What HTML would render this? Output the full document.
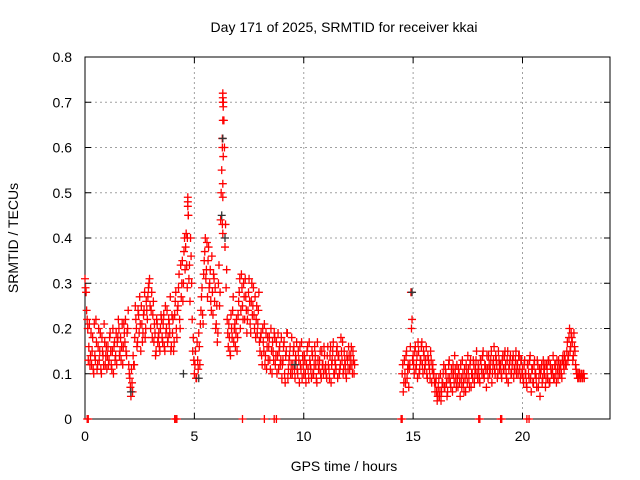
<!DOCTYPE html>
<html><head><meta charset="utf-8"><style>
body{margin:0;background:#fff}
svg{display:block;font-family:"Liberation Sans",sans-serif}
</style></head><body>
<svg id="chart" width="640" height="480">
<text x="344" y="32" font-size="14" text-anchor="middle">Day 171 of 2025, SRMTID for receiver kkai</text>
<text x="344" y="471" font-size="14" text-anchor="middle">GPS time / hours</text>
<text x="18" y="238" font-size="14" text-anchor="middle" transform="rotate(-90 18 238)">SRMTID / TECUs</text>
<g id="grid"></g>
<g id="axes"></g>
<g id="marks"></g>
</svg>
<script>
const xTicks=[0,5,10,15,20];
const yTicks=[0,0.1,0.2,0.3,0.4,0.5,0.6,0.7,0.8];
const yTickLabels=["0","0.1","0.2","0.3","0.4","0.5","0.6","0.7","0.8"];
const segAStart=0, segA2Start=0.025, segBStart=14.5, segB2Start=14.525, step=0.05;
const segA=[.31,.28,.22,.13,.21,.14,.12,.18,.10,.14,.22,.11,.16,.13,.19,.10,.15,.12,.17,.14,
.11,.16,.13,.19,.12,.15,.10,.17,.14,.12,.18,.20,.15,.13,.21,.16,.19,.22,.14,.20,
.12,.09,.05,.08,.14,.12,.25,.20,.17,.23,.27,.15,.21,.19,.24,.18,.26,.22,.29,.31,
.20,.28,.23,.17,.19,.15,.21,.18,.16,.20,.22,.17,.23,.15,.19,.24,.18,.21,.27,.16,
.19,.15,.23,.28,.18,.25,.32,.20,.27,.35,.30,.40,.38,.34,.48,.31,.26,.36,.22,.18,
.10,.15,.09,.13,.19,.12,.24,.29,.21,.35,.40,.33,.27,.38,.30,.26,.36,.23,.31,.29,
.21,.17,.30,.25,.44,.55,.72,.66,.38,.29,.22,.16,.18,.14,.20,.24,.17,.21,.19,.15,
.23,.28,.20,.32,.25,.30,.22,.27,.19,.24,.31,.21,.26,.23,.29,.20,.18,.25,.21,.28,
.15,.19,.12,.17,.21,.14,.11,.18,.16,.13,.20,.10,.15,.19,.12,.17,.14,.11,.16,.13,
.09,.13,.17,.08,.15,.19,.11,.14,.10,.18,.12,.16,.09,.13,.11,.15,.08,.12,.17,.14,
.10,.13,.08,.15,.11,.17,.12,.09,.14,.10,.16,.12,.08,.13,.11,.15,.09,.12,.10,.14,
.12,.09,.16,.11,.14,.08,.13,.17,.10,.12,.15,.09,.14,.11,.18,.13,.10,.15,.12,.09,
.13,.16,.11,.14,.12,.15,.10];
const segA2=[.29,.24,.20,.16,.12,.19,.15,.11,.21,.13,.17,.12,.20,.15,.11,.18,.14,.21,.12,.16,
.14,.12,.18,.15,.11,.20,.16,.13,.19,.17,.22,.14,.18,.16,.12,.21,.17,.15,.19,.24,
.10,.07,.11,.06,.12,.18,.22,.16,.24,.19,.21,.25,.17,.23,.28,.20,.24,.27,.30,.25,
.24,.18,.26,.21,.14,.22,.17,.19,.15,.23,.18,.21,.16,.25,.20,.17,.22,.19,.15,.23,
.22,.17,.26,.20,.24,.29,.22,.34,.30,.26,.37,.33,.41,.29,.45,.34,.40,.30,.15,.13,
.12,.09,.17,.11,.16,.21,.27,.23,.32,.37,.31,.39,.35,.29,.33,.24,.28,.32,.26,.20,
.25,.19,.34,.28,.50,.62,.70,.60,.43,.33,.19,.21,.15,.23,.18,.27,.20,.16,.22,.18,
.26,.31,.24,.29,.22,.27,.31,.24,.22,.28,.26,.19,.30,.25,.23,.27,.22,.19,.24,.17,
.18,.14,.20,.15,.12,.19,.16,.13,.18,.11,.15,.17,.13,.18,.14,.10,.19,.15,.12,.18,
.12,.16,.10,.14,.19,.09,.13,.16,.12,.10,.15,.11,.14,.17,.10,.13,.16,.11,.09,.12,
.14,.10,.12,.16,.09,.13,.11,.15,.10,.12,.14,.09,.17,.11,.13,.10,.15,.12,.16,.11,
.10,.14,.12,.09,.16,.12,.15,.10,.13,.11,.16,.14,.10,.12,.15,.17,.11,.13,.10,.14,
.11,.14,.12,.16,.10,.13,.12];
const segB=[.10,.06,.13,.08,.15,.11,.07,.12,.28,.22,
.14,.10,.16,.12,.09,.15,.11,.13,.17,.10,.14,.12,.16,.09,.13,.11,.15,.08,.12,.10,
.06,.09,.04,.07,.05,.10,.06,.08,.12,.07,.10,.05,.09,.13,.08,.11,.06,.10,.14,.09,
.12,.07,.10,.05,.09,.13,.08,.11,.06,.10,.14,.09,.12,.07,.10,.13,.08,.11,.15,.09,
.11,.08,.13,.10,.15,.09,.12,.07,.11,.14,.10,.13,.08,.12,.16,.10,.13,.09,.15,.11,
.12,.09,.14,.11,.15,.10,.13,.08,.12,.14,.10,.13,.09,.11,.15,.12,.10,.14,.09,.13,
.11,.08,.13,.10,.07,.12,.09,.14,.06,.11,.08,.13,.10,.07,.12,.09,.05,.11,.08,.13,
.10,.07,.12,.09,.13,.08,.11,.10,.14,.09,.12,.08,.11,.13,.10,.12,.09,.14,.11,.13,
.12,.17,.14,.20,.16,.18,.13,.19,.15,.11,.10,.09,.10,.09,.10,.09,.10];
const segB2=[.12,.08,.10,.14,.09,.12,.11,.16,.20,.13,
.12,.15,.11,.14,.17,.10,.13,.16,.12,.15,.11,.13,.10,.14,.12,.09,.13,.11,.10,.08,
.08,.06,.05,.09,.06,.04,.08,.10,.07,.11,.08,.06,.12,.09,.07,.10,.12,.08,.11,.07,
.09,.11,.08,.12,.07,.10,.06,.09,.12,.08,.11,.07,.13,.10,.09,.12,.10,.13,.10,.12,
.09,.13,.11,.14,.10,.12,.11,.14,.09,.12,.11,.15,.10,.13,.11,.14,.12,.10,.13,.12,
.10,.13,.11,.14,.12,.09,.15,.11,.13,.10,.12,.14,.11,.13,.10,.12,.14,.11,.13,.10,
.09,.12,.10,.08,.12,.10,.13,.09,.11,.08,.12,.10,.09,.13,.07,.11,.10,.12,.09,.11,
.12,.09,.11,.13,.08,.12,.10,.11,.09,.12,.10,.13,.09,.11,.12,.10,.13,.12,.14,.12,
.15,.13,.18,.15,.19,.17,.14,.16,.12,.10,.09,.10,.09,.10,.09,.10,.09];
const spikeTimes=[6.3,6.3,6.32,6.3,6.28,6.32,6.3,6.3,6.28,6.3,4.7,4.7,4.72,4.68];
const spikeVals=[0.71,0.70,0.69,0.66,0.60,0.58,0.52,0.49,0.43,0.41,0.49,0.47,0.45,0.40];
const zeroTimes=[0.1,0.15,4.1,4.15,4.2,7.2,8.2,8.65,8.75,14.45,14.5,18.0,18.05,19.0,19.05,20.2,20.3];
const darkTimes=[4.5,5.2,6.25,6.3,6.4,14.95,2.1,9.6];
const darkVals=[0.10,0.09,0.45,0.62,0.40,0.28,0.06,0.12];
const X0=85,X1=610,Y0=419,Y1=57;
const xs=t=>X0+(t/24)*(X1-X0);
const ys=v=>Y0-(v/0.8)*(Y0-Y1);
const NS="http://www.w3.org/2000/svg";
function mk(tag,attrs,parent){const e=document.createElementNS(NS,tag);for(const k in attrs)e.setAttribute(k,attrs[k]);parent.appendChild(e);return e;}
const grid=document.getElementById('grid'),axes=document.getElementById('axes'),marks=document.getElementById('marks');
xTicks.forEach(t=>{
 if(t>0){const g=mk('line',{x1:xs(t),x2:xs(t),y1:Y0,y2:Y1,stroke:'#a0a0a0','stroke-dasharray':'2,3'},grid);
 
 }
 mk('line',{x1:xs(t),x2:xs(t),y1:Y0,y2:Y0-6,stroke:'#000'},axes);
 mk('line',{x1:xs(t),x2:xs(t),y1:Y1,y2:Y1+6,stroke:'#000'},axes);
 const l=mk('text',{x:xs(t),y:Y0+22,'font-size':14,'text-anchor':'middle'},axes);l.textContent=t;
 
 
});
yTicks.forEach((v,i)=>{
 if(v>0&&v<0.8){const g=mk('line',{x1:X0,x2:X1,y1:ys(v),y2:ys(v),stroke:'#a0a0a0','stroke-dasharray':'2,3'},grid);
 
 }
 mk('line',{x1:X0,x2:X0+6,y1:ys(v),y2:ys(v),stroke:'#000'},axes);
 mk('line',{x1:X1,x2:X1-6,y1:ys(v),y2:ys(v),stroke:'#000'},axes);
 const l=mk('text',{x:X0-13,y:ys(v)+5,'font-size':14,'text-anchor':'end'},axes);l.textContent=yTickLabels[i];
 
 
});
const fr=mk('rect',{x:X0,y:Y1,width:X1-X0,height:Y0-Y1,fill:'none',stroke:'#000'},axes);


function plus(t,v,color){
 const x=xs(t),y=ys(v);
 const p=mk('path',{d:`M${x-4},${y}h8M${x},${y-4}v8`,stroke:color,'stroke-width':1.3,fill:'none'},marks);
 
 
}
segA.forEach((v,i)=>plus(segAStart+i*step,v,'#ff0000'));
segA2.forEach((v,i)=>plus(segA2Start+i*step,v,'#ff0000'));
segB.forEach((v,i)=>plus(segBStart+i*step,v,'#ff0000'));
segB2.forEach((v,i)=>plus(segB2Start+i*step,v,'#ff0000'));
spikeTimes.forEach((t,i)=>plus(t,spikeVals[i],'#ff0000'));
zeroTimes.forEach(t=>plus(t,0,'#ff0000'));
darkTimes.forEach((t,i)=>plus(t,darkVals[i],'#333'));
</script>
</body></html>
